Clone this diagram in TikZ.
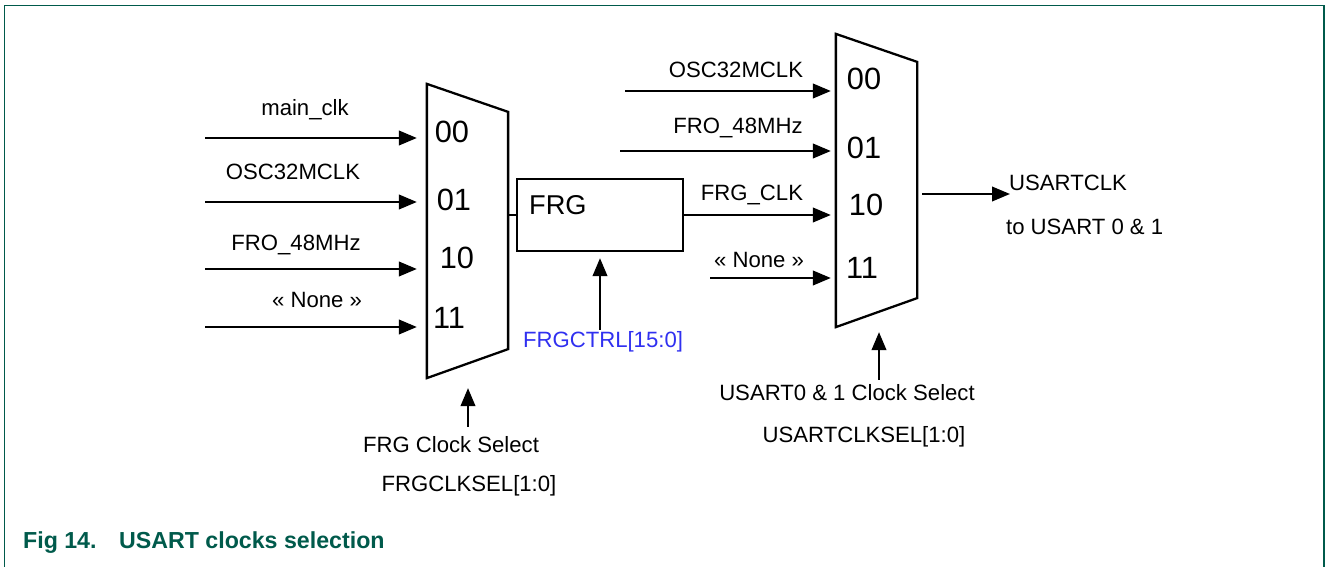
\documentclass[tikz,border=0pt]{standalone}
\usepackage{fontspec}
\setmainfont{Liberation Sans}
\usetikzlibrary{arrows.meta, positioning}
\definecolor{nxpgreen}{HTML}{005A4B}
\definecolor{ctrlblue}{HTML}{3030F0}

\begin{document}
\begin{tikzpicture}[
				x=0.02cm, y=-0.02cm, line width=1.3pt,
				>={Triangle[length=0.36cm, width=0.29cm]},
				sig/.style={font=\fontsize{12.6}{14}\selectfont, inner sep=0pt},
				code/.style={font=\fontsize{17.5}{19}\selectfont, inner sep=0pt},
				muxbody/.style={inner sep=0pt, minimum width=1.58cm},
				mux/.style={draw, line join=miter},
				capt/.style={anchor=base west, inner sep=0pt, text=nxpgreen, font=\fontsize{13.2}{15}\selectfont\bfseries}
				]
				\useasboundingbox (0,0) rectangle (1326,567);
				\draw[nxpgreen, line width=1pt] (4.5,567) -- (4.5,5.5) -- (1324,5.5) -- (1324,567);
				\node[capt] (fignum) at (22,549) {Fig 14.};
				\node[capt] (figtitle) at (118,549) {USART clocks selection};

				\node[muxbody, minimum height=5.84cm] (fmux) at (467.5,231) {};
				\draw[mux] (fmux.north west) -- ([yshift=-0.56cm]fmux.north east) -- ([yshift=0.58cm]fmux.south east) -- (fmux.south west) -- cycle;
				\node[muxbody, minimum height=5.82cm] (umux) at (876.5,180.5) {};
				\draw[mux] (umux.north west) -- ([yshift=-0.56cm]umux.north east) -- ([yshift=0.58cm]umux.south east) -- (umux.south west) -- cycle;

				\node[code] (f00) at (452,132) {00};
				\node[code] (f01) at (454,200) {01};
				\node[code] (f10) at (457,258) {10};
				\node[code] (f11) at (449,318) {11};
				\node[code] (u00) at (864,79) {00};
				\node[code] (u01) at (864,148) {01};
				\node[code] (u10) at (866,205) {10};
				\node[code] (u11) at (862,268) {11};

				\node[draw, minimum width=3.32cm, minimum height=1.44cm] (frg) at (600,215) {};
				\node[anchor=west, inner sep=0pt, font=\fontsize{15.5}{17}\selectfont] (frgtxt) at (528,205) {FRG};

				\node[sig] (mainclk) at (305,110) {main\_clk};
				\node[sig] (fosc) at (293,172) {OSC32MCLK};
				\node[sig] (ffro) at (296,245) {FRO\_48MHz};
				\node[sig] (fnone) at (317,300) {« None »};
				\node[sig] (uosc) at (736,70) {OSC32MCLK};
				\node[sig] (ufro) at (738,128) {FRO\_48MHz};
				\node[sig] (frgclk) at (752,195) {FRG\_CLK};
				\node[sig] (unone) at (759,260) {« None »};
				\node[sig, anchor=west] (usartclk) at (1008,183) {USARTCLK};
				\node[sig, anchor=west] (touart) at (1005,227) {to USART 0 \& 1};
				\node[sig, text=ctrlblue] (frgctrl) at (603,342) {FRGCTRL[15:0]};
				\node[sig] (fselname) at (451,445) {FRG Clock Select};
				\node[sig] (fselreg) at (469,486) {FRGCLKSEL[1:0]};
				\node[sig] (uselname) at (847,393) {USART0 \& 1 Clock Select};
				\node[sig] (uselreg) at (864,437) {USARTCLKSEL[1:0]};

				\coordinate (fin0) at (205,138);
				\coordinate (fin1) at (205,202);
				\coordinate (fin2) at (205,269);
				\coordinate (fin3) at (205,327);
				\coordinate (uin0) at (625,91);
				\coordinate (uin1) at (620,151);
				\coordinate (uin3) at (710,278);
				\coordinate (uout) at (1010,194);
				\coordinate (ctrl) at (600,330);
				\coordinate (fsel) at (468,427);
				\coordinate (usel) at (879,380);

				\path[->, shorten >=0.2cm]
				(fin0) edge (fin0 -| fmux.west)
				(fin1) edge (fin1 -| fmux.west)
				(fin2) edge (fin2 -| fmux.west)
				(fin3) edge (fin3 -| fmux.west)
				(fsel) edge (fsel |- fmux.south);
				\path[->, shorten >=0.1cm]
				(uin0) edge (uin0 -| umux.west)
				(uin1) edge (uin1 -| umux.west)
				(frg.east) edge (frg.east -| umux.west)
				(uin3) edge (uin3 -| umux.west)
				(usel) edge (usel |- umux.south);
				\draw[->, shorten >=0.12cm] (ctrl) -- (frg.south);
				\draw (fmux.east |- frg.west) -- (frg.west);
				\draw[->, shorten <=0.1cm] (uout -| umux.east) -- (uout);
			\end{tikzpicture}
\end{document}
